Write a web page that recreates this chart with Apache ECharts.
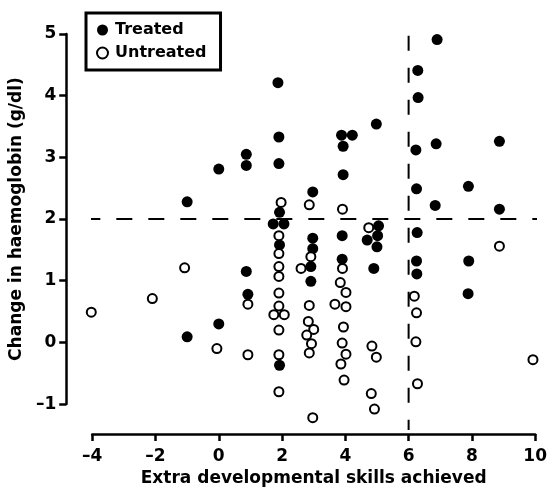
<!DOCTYPE html>
<html>
<head>
<meta charset="utf-8">
<script src="https://cdn.jsdelivr.net/npm/echarts@6/dist/echarts.min.js"></script>
<style>
  html, body { margin: 0; padding: 0; background: #fff; }
  #main { width: 550px; height: 492px; }
</style>
</head>
<body>
<div id="main"></div>
<script>
// [skills, change in Hb]
var treated = [
  [-1, 2.28], [-1, 0.09], [0, 2.81], [0, 0.30],
  [0.87, 3.05], [0.87, 2.87], [0.87, 1.15], [0.92, 0.78],
  [1.87, 4.21], [1.9, 3.33], [1.9, 2.9], [1.92, 2.11], [1.72, 1.92], [2.06, 1.92], [1.92, 1.58], [1.92, -0.37],
  [2.97, 2.44], [2.97, 1.69], [2.97, 1.52], [2.91, 1.23], [2.91, 0.99],
  [3.88, 3.36], [4.22, 3.36], [3.93, 3.18], [3.93, 2.72], [3.9, 1.73], [3.9, 1.35],
  [4.98, 3.54], [5.05, 1.89], [5.02, 1.73], [4.69, 1.66], [5.0, 1.55], [4.9, 1.2],
  [6.29, 4.41], [6.3, 3.97], [6.23, 3.12], [6.25, 2.49], [6.27, 1.78], [6.25, 1.32], [6.26, 1.11],
  [6.9, 4.91], [6.87, 3.22], [6.84, 2.22],
  [7.89, 2.53], [7.9, 1.32], [7.88, 0.79],
  [8.87, 3.26], [8.87, 2.16]
];
var untreated = [
  [-4.03, 0.49], [-2.1, 0.71], [-1.08, 1.21], [-0.06, -0.10],
  [0.92, 0.62], [0.92, -0.20],
  [1.97, 2.27], [1.9, 1.73], [1.9, 1.44], [1.9, 1.23], [1.9, 1.07], [1.9, 0.80], [1.9, 0.59],
  [1.74, 0.45], [2.07, 0.45], [1.9, 0.20], [1.9, -0.20], [1.9, -0.80],
  [2.86, 2.23], [2.91, 1.39], [2.6, 1.2], [2.86, 0.60], [2.83, 0.34], [3.0, 0.21], [2.78, 0.12],
  [2.93, -0.02], [2.86, -0.17], [2.97, -1.22],
  [3.91, 2.16], [3.91, 1.2], [3.84, 0.97], [4.02, 0.81], [3.67, 0.62], [4.02, 0.58], [3.94, 0.25],
  [3.9, -0.01], [4.02, -0.19], [3.86, -0.35], [3.96, -0.61],
  [4.74, 1.86], [4.84, -0.06], [4.98, -0.24], [4.82, -0.83], [4.92, -1.08],
  [6.18, 0.75], [6.25, 0.48], [6.23, 0.01], [6.28, -0.67],
  [8.87, 1.56], [9.93, -0.28]
];
// dashed reference lines
var hLine = [[-4.25, 2], [10.1, 2]];
var vLine = [[6, 4.97], [6, -1.42]];

var xTicks = { min: -4, max: 10, interval: 2 };
var yTicks = { min: -1, max: 5, interval: 1 };

var font = 'DejaVu Sans';
function minus(v) { return String(v).replace('-', '\u2013'); }

var chart = echarts.init(document.getElementById('main'));
chart.setOption({
  animation: false,
  grid: { left: 88, right: 10, top: 34, bottom: 82 },
  legend: {
    data: ['Treated', 'Untreated'],
    orient: 'vertical',
    left: 86, top: 13,
    padding: [9, 14, 9, 10],
    itemGap: 7,
    itemWidth: 11, itemHeight: 11,
    borderColor: '#000', borderWidth: 3,
    textStyle: { fontFamily: font, fontWeight: 'bold', fontSize: 16, color: '#000', padding: [0, 0, 0, 2] }
  },
  xAxis: {
    type: 'value',
    min: xTicks.min, max: xTicks.max, interval: xTicks.interval,
    offset: 30,
    name: 'Extra developmental skills achieved',
    nameLocation: 'middle', nameGap: 33,
    nameTextStyle: { fontFamily: font, fontWeight: 'bold', fontSize: 17, color: '#000' },
    axisLine: { onZero: false, lineStyle: { color: '#000', width: 2.5 } },
    axisTick: { inside: false, length: 7, lineStyle: { color: '#000', width: 2.5 } },
    axisLabel: { margin: 14, fontFamily: font, fontWeight: 'bold', fontSize: 17, color: '#000', formatter: minus },
    splitLine: { show: false }
  },
  yAxis: {
    type: 'value',
    min: yTicks.min, max: yTicks.max, interval: yTicks.interval,
    offset: 26,
    name: 'Change in haemoglobin (g/dl)',
    nameLocation: 'middle', nameGap: 36,
    nameTextStyle: { fontFamily: font, fontWeight: 'bold', fontSize: 17, color: '#000' },
    axisLine: { onZero: false, lineStyle: { color: '#000', width: 2.5 } },
    axisTick: { length: 7, lineStyle: { color: '#000', width: 2.5 } },
    axisLabel: { margin: 10, fontFamily: font, fontWeight: 'bold', fontSize: 17, color: '#000', formatter: minus },
    splitLine: { show: false }
  },
  series: [
    {
      type: 'line', data: hLine, symbol: 'none', clip: false, silent: true,
      lineStyle: { color: '#000', width: 2, type: [16, 16] }
    },
    {
      type: 'line', data: vLine, symbol: 'none', clip: false, silent: true,
      lineStyle: { color: '#000', width: 2, type: [15, 17] }
    },
    {
      name: 'Treated', type: 'scatter', data: treated, clip: false,
      symbol: 'circle', symbolSize: 11,
      itemStyle: { color: '#000', opacity: 1 }
    },
    {
      name: 'Untreated', type: 'scatter', data: untreated, clip: false,
      symbol: 'circle', symbolSize: 9,
      itemStyle: { color: '#fff', borderColor: '#000', borderWidth: 2, opacity: 1 }
    }
  ]
});
</script>
</body>
</html>
